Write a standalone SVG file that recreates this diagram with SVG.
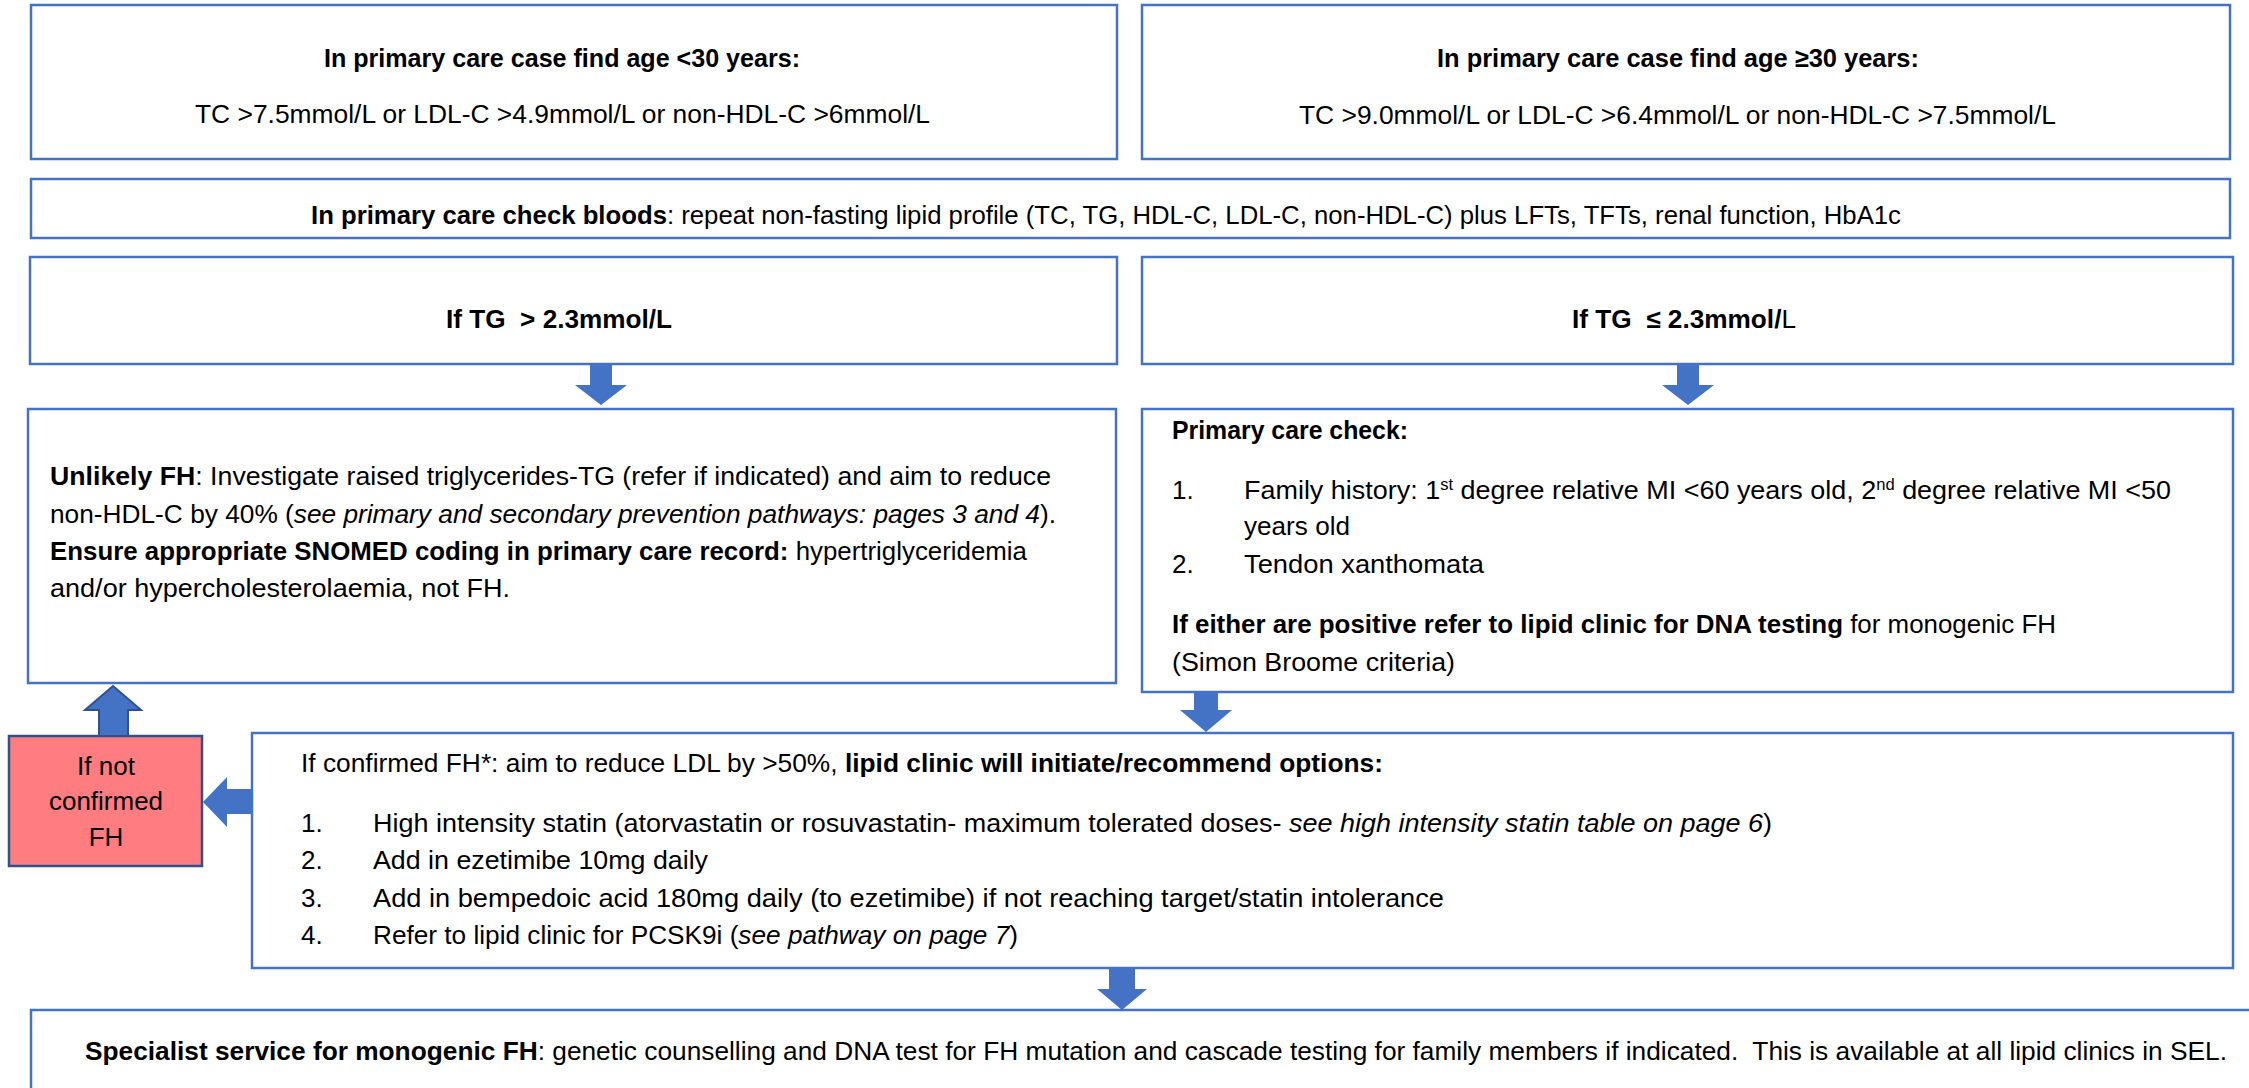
<svg xmlns="http://www.w3.org/2000/svg" width="2249" height="1088" viewBox="0 0 2249 1088">
<style>
text{font-family:"Liberation Sans",Arial,sans-serif;font-size:26px;fill:#000}
.b{font-weight:bold}
.i{font-style:italic}
.box{fill:#fff;stroke:#4472C4;stroke-width:2.5}
.red{fill:#FF7C80;stroke:#2F528F;stroke-width:2.5}
.arr{fill:#4472C4}
.arro{fill:#4472C4;stroke:#2F528F;stroke-width:2}
.sup{font-size:16px}
</style>
<rect width="2249" height="1088" fill="#fff"/>
<g id="node-age-lt30">
<rect class="box" x="31" y="5" width="1086" height="154"/>
<text class="b" x="324" y="67" textLength="476" lengthAdjust="spacingAndGlyphs">In primary care case find age &lt;30 years:</text>
<text x="195" y="123" textLength="735" lengthAdjust="spacingAndGlyphs">TC &gt;7.5mmol/L or LDL-C &gt;4.9mmol/L or non-HDL-C &gt;6mmol/L</text>
</g>
<g id="node-age-ge30">
<rect class="box" x="1142" y="5" width="1088" height="154"/>
<text class="b" x="1437" y="67" textLength="482" lengthAdjust="spacingAndGlyphs">In primary care case find age ≥30 years:</text>
<text x="1299" y="124" textLength="757" lengthAdjust="spacingAndGlyphs">TC &gt;9.0mmol/L or LDL-C &gt;6.4mmol/L or non-HDL-C &gt;7.5mmol/L</text>
</g>
<g id="node-check-bloods">
<rect class="box" x="31" y="179" width="2199" height="59"/>
<text x="311" y="224" textLength="1590" lengthAdjust="spacingAndGlyphs"><tspan class="b">In primary care check bloods</tspan>: repeat non-fasting lipid profile (TC, TG, HDL-C, LDL-C, non-HDL-C) plus LFTs, TFTs, renal function, HbA1c</text>
</g>
<g id="node-tg-high">
<rect class="box" x="30" y="257" width="1087" height="107"/>
<text class="b" x="446" y="328" textLength="226" lengthAdjust="spacingAndGlyphs">If TG&#160; &gt; 2.3mmol/L</text>
</g>
<g id="node-tg-low">
<rect class="box" x="1142" y="257" width="1091" height="107"/>
<text x="1572" y="328" textLength="224" lengthAdjust="spacingAndGlyphs"><tspan class="b">If TG&#160; ≤ 2.3mmol/</tspan>L</text>
</g>
<g id="node-unlikely-fh">
<rect class="box" x="28" y="409" width="1088" height="274"/>
<text x="50" y="485" textLength="1001" lengthAdjust="spacingAndGlyphs"><tspan class="b">Unlikely FH</tspan>: Investigate raised triglycerides-TG (refer if indicated) and aim to reduce</text>
<text x="50" y="523" textLength="1006" lengthAdjust="spacingAndGlyphs">non-HDL-C by 40% (<tspan class="i">see primary and secondary prevention pathways: pages 3 and 4</tspan>).</text>
<text x="50" y="560" textLength="977" lengthAdjust="spacingAndGlyphs"><tspan class="b">Ensure appropriate SNOMED coding in primary care record:</tspan> hypertriglyceridemia</text>
<text x="50" y="597" textLength="460" lengthAdjust="spacingAndGlyphs">and/or hypercholesterolaemia, not FH.</text>
</g>
<g id="node-primary-care-check">
<rect class="box" x="1142" y="409" width="1091" height="283"/>
<text class="b" x="1172" y="439" textLength="236" lengthAdjust="spacingAndGlyphs">Primary care check:</text>
<text x="1172" y="499">1.</text>
<text x="1244" y="499" textLength="927" lengthAdjust="spacingAndGlyphs">Family history: 1<tspan class="sup" dy="-9">st</tspan><tspan dy="9"> degree relative MI &lt;60 years old, 2</tspan><tspan class="sup" dy="-9">nd</tspan><tspan dy="9"> degree relative MI &lt;50</tspan></text>
<text x="1244" y="535" textLength="106" lengthAdjust="spacingAndGlyphs">years old</text>
<text x="1172" y="573">2.</text>
<text x="1244" y="573" textLength="240" lengthAdjust="spacingAndGlyphs">Tendon xanthomata</text>
<text x="1172" y="633" textLength="884" lengthAdjust="spacingAndGlyphs"><tspan class="b">If either are positive refer to lipid clinic for DNA testing</tspan> for monogenic FH</text>
<text x="1172" y="671" textLength="283" lengthAdjust="spacingAndGlyphs">(Simon Broome criteria)</text>
</g>
<g id="node-not-confirmed">
<rect class="red" x="9" y="736" width="193" height="130"/>
<text x="106" y="775" text-anchor="middle">If not</text>
<text x="106" y="810" text-anchor="middle">confirmed</text>
<text x="106" y="846" text-anchor="middle">FH</text>
</g>
<g id="node-confirmed-fh">
<rect class="box" x="252" y="733" width="1981" height="235"/>
<text x="301" y="772" textLength="1082" lengthAdjust="spacingAndGlyphs">If confirmed FH*: aim to reduce LDL by &gt;50%, <tspan class="b">lipid clinic will initiate/recommend options:</tspan></text>
<text x="301" y="832">1.</text>
<text x="373" y="832" textLength="1399" lengthAdjust="spacingAndGlyphs">High intensity statin (atorvastatin or rosuvastatin- maximum tolerated doses- <tspan class="i">see high intensity statin table on page 6</tspan>)</text>
<text x="301" y="869">2.</text>
<text x="373" y="869" textLength="335" lengthAdjust="spacingAndGlyphs">Add in ezetimibe 10mg daily</text>
<text x="301" y="907">3.</text>
<text x="373" y="907" textLength="1071" lengthAdjust="spacingAndGlyphs">Add in bempedoic acid 180mg daily (to ezetimibe) if not reaching target/statin intolerance</text>
<text x="301" y="944">4.</text>
<text x="373" y="944" textLength="645" lengthAdjust="spacingAndGlyphs">Refer to lipid clinic for PCSK9i (<tspan class="i">see pathway on page 7</tspan>)</text>
</g>
<g id="node-specialist">
<rect class="box" x="31" y="1010" width="2240" height="100"/>
<text x="85" y="1060" textLength="2142" lengthAdjust="spacingAndGlyphs"><tspan class="b">Specialist service for monogenic FH</tspan>: genetic counselling and DNA test for FH mutation and cascade testing for family members if indicated.&#160; This is available at all lipid clinics in SEL.</text>
</g>
<g id="connectors">
<polygon class="arr" points="590,365 612,365 612,385 627,385 601,405 575,385 590,385"/>
<polygon class="arr" points="1677,365 1699,365 1699,385 1714,385 1688,405 1662,385 1677,385"/>
<polygon class="arr" points="1194,692 1218,692 1218,710 1232,710 1206,732 1180,710 1194,710"/>
<polygon class="arr" points="1109,968 1135,968 1135,989 1147,989 1122,1010 1097,989 1109,989"/>
<polygon class="arro" points="99,736 128,736 128,710 141,710 113,686 85,710 99,710"/>
<polygon class="arr" points="252,789 252,814 227,814 227,827 203,802 227,777 227,789"/>
</g>
</svg>
